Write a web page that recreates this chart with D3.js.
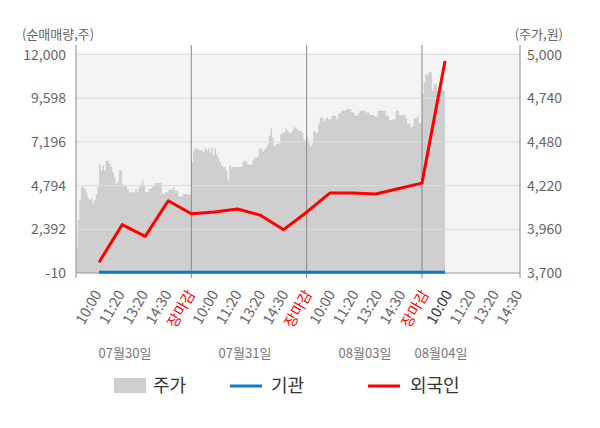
<!DOCTYPE html>
<html><head><meta charset="utf-8">
<script src="https://cdn.jsdelivr.net/npm/d3@7"></script>
<style>
body{margin:0;background:#fff;}
text{font-family:"Noto Sans CJK KR","Noto Sans",sans-serif;}
</style>
</head><body>
<svg id="c" width="600" height="428"></svg>
<script>
// ---------- data ----------
const dayLabels = ["07월30일","07월31일","08월03일","08월04일"];
const timeLabels = ["10:00","11:20","13:20","14:30","장마감",
                    "10:00","11:20","13:20","14:30","장마감",
                    "10:00","11:20","13:20","14:30","장마감",
                    "10:00","11:20","13:20","14:30"];
const leftTicks = [-10, 2392, 4794, 7196, 9598, 12000];
const rightTicks = [3700, 3960, 4220, 4480, 4740, 5000];

// intraday price (주가) per day
const price0730 = [3850,4015,4135,4210,4210,4200,4180,4145,4135,4145,
                   4115,4135,4170,4210,4350,4310,4340,4310,4370,4365,
                   4350,4330,4300,4270,4230,4240,4310,4310,4230,4220,
                   4220,4200,4180,4180,4180,4180,4200,4180,4210,4225,
                   4250,4220,4180,4180,4200,4200,4215,4215,4235,4235,
                   4235,4235,4170,4170,4180,4180,4195,4195,4200,4210,
                   4190,4190,4155,4155,4155,4170,4170,4170,4165,4165];
const price0731 = [4360,4425,4440,4440,4435,4430,4430,4420,4445,4430,
                   4440,4415,4445,4400,4440,4405,4385,4360,4340,4330,
                   4330,4310,4250,4340,4320,4330,4330,4330,4330,4330,
                   4330,4360,4370,4360,4345,4345,4345,4370,4385,4385,
                   4395,4440,4440,4420,4435,4445,4465,4515,4560,4505,
                   4455,4465,4470,4470,4525,4535,4535,4560,4545,4535,
                   4535,4545,4565,4565,4555,4545,4545,4535,4490,4490];
const price0803 = [4510,4470,4455,4470,4545,4535,4535,4590,4625,4625,
                   4605,4615,4625,4615,4615,4635,4635,4635,4615,4650,
                   4650,4665,4665,4665,4675,4675,4675,4655,4655,4635,
                   4635,4650,4665,4665,4665,4665,4655,4655,4640,4640,
                   4640,4630,4630,4665,4665,4665,4665,4665,4635,4635,
                   4610,4610,4615,4615,4665,4665,4640,4640,4640,4640,
                   4620,4590,4590,4565,4575,4620,4620,4635,4590,4590];
const price0804 = [4765,4835,4885,4875,4895,4895,4785,4825,4820,4785,
                   4785,4810,4785,4785];

// net buying (순매매량) at each time label, slots 1..16
const foreign = [582, 2646, 2006, 3961, 3249, 3342, 3506, 3167, 2372, 3331,
                 4382, 4382, 4328, 4634, 4930, 11645];
const institution = [30,30,30,30,30,30,30,30,30,30,30,30,30,30,30,30];

// ---------- layout ----------
const svg = d3.select("#c");
const L = 76, R = 520, T = 54.5, B = 273;
const perDay = 70, slotsPerDay = 5;
const x = d3.scaleLinear().domain([0, 19.25]).range([L, R]);
const yL = d3.scaleLinear().domain([-10, 12000]).range([B, T]);
const yR = d3.scaleLinear().domain([3700, 5000]).range([B, T]);
const labelX = d3.scaleLinear().domain([0, 18]).range([102, 523]);
const fmt = v => d3.format(",")(v).replace("\u2212", "-");

const priceDays = [price0730, price0731, price0803, price0804];
const pricePts = [];
priceDays.forEach((arr, d) => {
  arr.forEach((v, j) => pricePts.push({s: d*slotsPerDay + j*slotsPerDay/perDay, v}));
});
const lastP = pricePts[pricePts.length-1];
pricePts.push({s: 3*slotsPerDay + price0804.length*slotsPerDay/perDay, v: lastP.v});

// background
svg.append("rect").attr("x", L).attr("y", T-2.5).attr("width", R-L).attr("height", B-T+2.5)
  .attr("fill", "#f4f4f4");

// area
svg.append("path").datum(pricePts)
  .attr("d", d3.area().curve(d3.curveStepAfter)
     .x(d => x(d.s)).y0(B).y1(d => yR(d.v)))
  .attr("fill", "#cfcfcf");

// grid lines
svg.append("g").selectAll("line").data(leftTicks.slice(1)).join("line")
  .attr("x1", L).attr("x2", R).attr("y1", d => yL(d)).attr("y2", d => yL(d))
  .attr("stroke", "#dedede").attr("stroke-width", 1);

// bottom axis line
svg.append("line").attr("x1", L).attr("x2", R).attr("y1", B).attr("y2", B)
  .attr("stroke", "#999").attr("stroke-width", 1);

// vertical axes and day separators
const vlines = [0, 5, 10, 15].map(s => x(s)).concat([R]);
svg.append("g").selectAll("line").data(vlines).join("line")
  .attr("x1", d => d).attr("x2", d => d).attr("y1", 45).attr("y2", 278)
  .attr("stroke", "#8a8a8a").attr("stroke-width", 1);

// lines
const lineGen = d3.line().x((d, i) => x(i + 1)).y(d => yL(d));
svg.append("path").datum(institution).attr("d", lineGen)
  .attr("fill", "none").attr("stroke", "#0a7dc8").attr("stroke-width", 3);
svg.append("path").datum(foreign).attr("d", lineGen)
  .attr("fill", "none").attr("stroke", "#ff0000").attr("stroke-width", 3)
  .attr("stroke-linejoin", "round");

// left axis labels
svg.append("g").selectAll("text").data(leftTicks).join("text")
  .attr("x", 66).attr("y", d => yL(d)).attr("dy", "0.36em")
  .attr("text-anchor", "end").attr("font-size", 14).attr("fill", "#666")
  .text(d => fmt(d));
// right axis labels
svg.append("g").selectAll("text").data(rightTicks).join("text")
  .attr("x", 527).attr("y", d => yR(d)).attr("dy", "0.36em")
  .attr("text-anchor", "start").attr("font-size", 14).attr("fill", "#666")
  .text(d => fmt(d));

// axis titles
svg.append("text").attr("x", 22).attr("y", 34).attr("dy", "0.36em")
  .attr("font-size", 13).attr("fill", "#666").text("(순매매량,주)");
svg.append("text").attr("x", 563).attr("y", 34).attr("dy", "0.36em")
  .attr("text-anchor", "end").attr("font-size", 13).attr("fill", "#666").text("(주가,원)");

// x tick labels
svg.append("g").selectAll("text").data(timeLabels).join("text")
  .attr("transform", (d, i) => `translate(${labelX(i)},294) rotate(-60)`)
  .attr("text-anchor", "end").attr("font-size", 14.5)
  .attr("fill", (d, i) => d === "장마감" ? "#ff0000" : (i === 15 ? "#333" : "#666"))
  .text(d => d);

// date labels
const dateX = [125, 245, 365, 441];
svg.append("g").selectAll("text").data(dayLabels).join("text")
  .attr("x", (d, i) => dateX[i]).attr("y", 353).attr("dy", "0.36em")
  .attr("text-anchor", "middle").attr("font-size", 13).attr("fill", "#777")
  .text(d => d);

// legend
const lg = svg.append("g");
lg.append("rect").attr("x", 114).attr("y", 378).attr("width", 32).attr("height", 15).attr("fill", "#cfcfcf");
lg.append("text").attr("x", 153).attr("y", 386).attr("dy", "0.36em").attr("font-size", 18).attr("fill", "#333").text("주가");
lg.append("line").attr("x1", 230).attr("x2", 262).attr("y1", 386).attr("y2", 386).attr("stroke", "#0a7dc8").attr("stroke-width", 3);
lg.append("text").attr("x", 271).attr("y", 386).attr("dy", "0.36em").attr("font-size", 18).attr("fill", "#333").text("기관");
lg.append("line").attr("x1", 368).attr("x2", 400).attr("y1", 386).attr("y2", 386).attr("stroke", "#ff0000").attr("stroke-width", 3);
lg.append("text").attr("x", 410).attr("y", 386).attr("dy", "0.36em").attr("font-size", 18).attr("fill", "#333").text("외국인");
</script>
</body></html>
